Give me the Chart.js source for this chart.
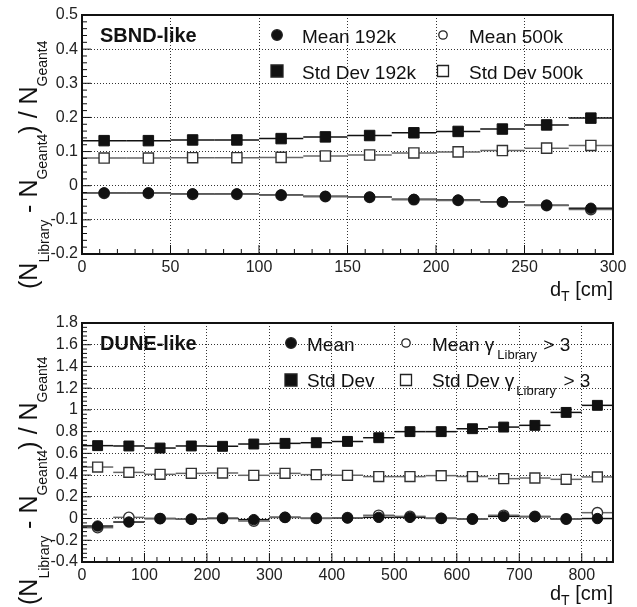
<!DOCTYPE html>
<html>
<head>
<meta charset="utf-8">
<title>SBND-like / DUNE-like</title>
<script src="https://cdn.jsdelivr.net/npm/chart.js@4.4.1/dist/chart.umd.min.js"></script>
<style>
  body { margin: 0; background: #fff; }
  #wrap { position: relative; width: 637px; height: 607px; }
  #wrap canvas { position: absolute; left: 0; top: 0; }
</style>
</head>
<body>
<div id="wrap">
  <canvas id="sbnd" width="637" height="607"></canvas>
  <canvas id="dune" width="637" height="607"></canvas>
</div>
<script>
// ------------------------------------------------------------
// Data
// ------------------------------------------------------------

// Upper panel: SBND-like, bins of 25 cm
const sbndBins     = [12.5, 37.5, 62.5, 87.5, 112.5, 137.5, 162.5, 187.5, 212.5, 237.5, 262.5, 287.5];
const sbndHalfBin  = 12.5;
const sbndMean192k = [-0.021, -0.021, -0.024, -0.024, -0.027, -0.031, -0.033, -0.040, -0.042, -0.047, -0.057, -0.066];
const sbndMean500k = [-0.022, -0.022, -0.025, -0.025, -0.028, -0.032, -0.034, -0.041, -0.043, -0.048, -0.058, -0.070];
const sbndStd192k  = [0.132, 0.132, 0.134, 0.134, 0.138, 0.143, 0.147, 0.155, 0.159, 0.166, 0.178, 0.198];
const sbndStd500k  = [0.081, 0.081, 0.082, 0.082, 0.083, 0.087, 0.090, 0.096, 0.099, 0.103, 0.110, 0.118];
const sbndXTicks   = [0, 50, 100, 150, 200, 250, 300];
const sbndYTicks   = [-0.2, -0.1, 0, 0.1, 0.2, 0.3, 0.4, 0.5];

// Lower panel: DUNE-like, bins of 50 cm
const duneBins      = [25, 75, 125, 175, 225, 275, 325, 375, 425, 475, 525, 575, 625, 675, 725, 775, 825];
const duneHalfBin   = 25;
const duneMean      = [-0.069, -0.032, 0.000, -0.006, 0.000, -0.010, 0.011, 0.002, 0.005, 0.011, 0.011, 0.002, -0.004, 0.020, 0.017, -0.004, 0.000];
const duneMeanGamma = [-0.084, 0.011, 0.000, -0.006, 0.005, -0.023, 0.011, 0.002, 0.008, 0.030, 0.020, 0.002, -0.004, 0.030, 0.020, -0.004, 0.054];
const duneStd       = [0.671, 0.668, 0.649, 0.668, 0.665, 0.686, 0.692, 0.698, 0.710, 0.744, 0.800, 0.800, 0.827, 0.842, 0.858, 0.977, 1.042];
const duneStdGamma  = [0.474, 0.425, 0.407, 0.416, 0.419, 0.398, 0.416, 0.404, 0.398, 0.386, 0.386, 0.395, 0.386, 0.367, 0.373, 0.361, 0.383];
const duneXTicks    = [0, 100, 200, 300, 400, 500, 600, 700, 800];
const duneYTicks    = [-0.4, -0.2, 0, 0.2, 0.4, 0.6, 0.8, 1, 1.2, 1.4, 1.6, 1.8];

const FONT = "'Liberation Sans', Arial, Helvetica, sans-serif";

// pairs x/y for the scatter datasets
function toPoints(xs, ys) {
  return xs.map((x, i) => ({ x: x, y: ys[i] }));
}

// draws a run of text pieces (subscripts use dy and a smaller size)
function drawRich(ctx, parts, x, y) {
  let cx = x;
  parts.forEach(p => {
    ctx.font = (p.bold ? 'bold ' : '') + p.s + 'px ' + FONT;
    cx += p.gap || 0;
    ctx.fillText(p.t, cx, y + (p.dy || 0));
    cx += ctx.measureText(p.t).width;
  });
  return cx - x;
}

function richWidth(ctx, parts) {
  let w = 0;
  parts.forEach(p => {
    ctx.font = (p.bold ? 'bold ' : '') + p.s + 'px ' + FONT;
    w += (p.gap || 0) + ctx.measureText(p.t).width;
  });
  return w;
}

function drawMarker(ctx, m) {
  ctx.save();
  ctx.lineWidth = 1.3;
  ctx.strokeStyle = '#222';
  ctx.fillStyle = m.filled ? '#111' : '#fff';
  ctx.beginPath();
  if (m.shape === 'circle') {
    ctx.arc(m.x, m.y, m.r, 0, Math.PI * 2);
  } else {
    ctx.rect(m.x - m.r, m.y - m.r, m.r * 2, m.r * 2);
  }
  ctx.fill();
  ctx.stroke();
  ctx.restore();
}

// ROOT-like decorations: error bars, frame, inner ticks, legend, titles
const panelDecor = {
  id: 'panelDecor',
  beforeDatasetsDraw(chart) {
    const { ctx, scales: { x, y } } = chart;
    chart.data.datasets.forEach(ds => {
      ctx.save();
      ctx.strokeStyle = ds.barColor;
      ctx.lineWidth = 1.5;
      ds.data.forEach(p => {
        const py = y.getPixelForValue(p.y);
        ctx.beginPath();
        ctx.moveTo(x.getPixelForValue(p.x - ds.halfWidth), py);
        ctx.lineTo(x.getPixelForValue(p.x + ds.halfWidth), py);
        ctx.stroke();
      });
      ctx.restore();
    });
  },
  afterDraw(chart, args, opts) {
    const { ctx, chartArea: a, scales: { x, y } } = chart;
    ctx.save();

    // inner tick marks on the left and bottom axes
    ctx.strokeStyle = '#111';
    ctx.lineWidth = 1;
    const eps = 1e-9;
    for (let v = y.min; v <= y.max + eps; v += opts.yMinor) {
      const py = y.getPixelForValue(v);
      const major = opts.yTicks.some(t => Math.abs(t - v) < 1e-6);
      ctx.beginPath();
      ctx.moveTo(a.left, py);
      ctx.lineTo(a.left + (major ? 9 : 5), py);
      ctx.stroke();
    }
    for (let v = x.min; v <= x.max + eps; v += opts.xMinor) {
      const px = x.getPixelForValue(v);
      const major = opts.xTicks.some(t => Math.abs(t - v) < 1e-6);
      ctx.beginPath();
      ctx.moveTo(px, a.bottom);
      ctx.lineTo(px, a.bottom - (major ? 9 : 5));
      ctx.stroke();
    }

    // frame
    ctx.lineWidth = 2;
    ctx.strokeStyle = '#111';
    ctx.strokeRect(a.left, a.top, a.right - a.left, a.bottom - a.top);

    // panel label + legend
    ctx.fillStyle = '#111';
    ctx.textBaseline = 'alphabetic';
    ctx.textAlign = 'left';
    ctx.font = 'bold 20px ' + FONT;
    ctx.fillText(opts.label.text, opts.label.x, opts.label.y);
    opts.legend.forEach(e => {
      drawMarker(ctx, e.marker);
      drawRich(ctx, e.parts, e.x, e.y);
    });

    // x title, right-aligned to the frame
    const xw = richWidth(ctx, opts.xTitle);
    drawRich(ctx, opts.xTitle, a.right - xw, opts.xTitleY);

    // y title, rotated
    ctx.translate(opts.yTitleX, opts.yTitleStart);
    ctx.rotate(-Math.PI / 2);
    drawRich(ctx, opts.yTitle, 0, 0);
    ctx.restore();
  }
};

const yTitleParts = [
  { t: '(N', s: 25 },
  { t: 'Library', s: 14, dy: 12 },
  { t: ' - N', s: 25 },
  { t: 'Geant4', s: 14, dy: 10 },
  { t: ') / N', s: 25 },
  { t: 'Geant4', s: 14, dy: 10 }
];
const xTitleParts = [
  { t: 'd', s: 20 },
  { t: 'T', s: 14, dy: 5 },
  { t: ' [cm]', s: 20 }
];

function makeAxis(min, max, ticks, fmt) {
  return {
    type: 'linear',
    min: min,
    max: max,
    afterBuildTicks: s => { s.ticks = ticks.map(v => ({ value: v })); },
    grid: { color: '#333', lineWidth: 1, drawTicks: false },
    border: { display: false, dash: [1, 2] },
    ticks: {
      padding: 4,
      color: '#222',
      font: { family: FONT, size: 16 },
      maxRotation: 0,
      autoSkip: false,
      callback: fmt
    }
  };
}

function makePanel(id, cfg) {
  const xAxis = makeAxis(cfg.xMin, cfg.xMax, cfg.xTicks, v => String(v));
  xAxis.afterFit = s => { s.height = 30; };
  const yAxis = makeAxis(cfg.yMin, cfg.yMax, cfg.yTicks, v => String(Math.round(v * 10) / 10));
  yAxis.afterFit = s => { s.width = 82; };

  return new Chart(document.getElementById(id), {
    type: 'scatter',
    data: { datasets: cfg.datasets },
    options: {
      responsive: false,
      animation: false,
      events: [],
      layout: { padding: cfg.padding },
      plugins: {
        legend: { display: false },
        tooltip: { enabled: false },
        panelDecor: cfg.decor
      },
      scales: { x: xAxis, y: yAxis }
    },
    plugins: [panelDecor]
  });
}

function filledSet(label, xs, ys, shape, r, half, order) {
  return {
    label: label, data: toPoints(xs, ys),
    pointStyle: shape, pointRadius: r, borderWidth: 1,
    backgroundColor: '#111', borderColor: '#111',
    halfWidth: half, barColor: '#111', order: order
  };
}
function openSet(label, xs, ys, shape, r, half, order) {
  return {
    label: label, data: toPoints(xs, ys),
    pointStyle: shape, pointRadius: r, borderWidth: 1.4,
    backgroundColor: '#fff', borderColor: '#333',
    halfWidth: half, barColor: '#666', order: order
  };
}

// ---------------- upper panel ----------------
makePanel('sbnd', {
  xMin: 0, xMax: 300, yMin: -0.2, yMax: 0.5,
  xTicks: sbndXTicks, yTicks: sbndYTicks,
  padding: { left: 0, right: 24, top: 15, bottom: 323 },
  datasets: [
    filledSet('Mean 192k', sbndBins, sbndMean192k, 'circle', 5.2, sbndHalfBin, 0),
    openSet('Mean 500k', sbndBins, sbndMean500k, 'circle', 5.2, sbndHalfBin, 1),
    openSet('Std Dev 500k', sbndBins, sbndStd500k, 'rect', 7.2, sbndHalfBin, 2),
    filledSet('Std Dev 192k', sbndBins, sbndStd192k, 'rect', 7.4, sbndHalfBin, 3)
  ],
  decor: {
    xTicks: sbndXTicks, yTicks: sbndYTicks, xMinor: 10, yMinor: 0.02,
    label: { text: 'SBND-like', x: 100, y: 42 },
    legend: [
      { marker: { shape: 'circle', filled: true, x: 277, y: 35, r: 5.3 }, x: 302, y: 43, parts: [{ t: 'Mean 192k', s: 19 }] },
      { marker: { shape: 'circle', filled: false, x: 443, y: 35, r: 4.2 }, x: 469, y: 43, parts: [{ t: 'Mean 500k', s: 19 }] },
      { marker: { shape: 'rect', filled: true, x: 277, y: 71, r: 6 }, x: 302, y: 79, parts: [{ t: 'Std Dev 192k', s: 19 }] },
      { marker: { shape: 'rect', filled: false, x: 443, y: 71, r: 5.5 }, x: 469, y: 79, parts: [{ t: 'Std Dev 500k', s: 19 }] }
    ],
    xTitle: xTitleParts, xTitleY: 296,
    yTitle: yTitleParts, yTitleX: 37, yTitleStart: 289
  }
});

// ---------------- lower panel ----------------
makePanel('dune', {
  xMin: 0, xMax: 850, yMin: -0.4, yMax: 1.8,
  xTicks: duneXTicks, yTicks: duneYTicks,
  padding: { left: 0, right: 24, top: 323, bottom: 15 },
  datasets: [
    filledSet('Mean', duneBins, duneMean, 'circle', 5.2, duneHalfBin, 0),
    openSet('Mean γLibrary > 3', duneBins, duneMeanGamma, 'circle', 5.2, duneHalfBin, 1),
    openSet('Std Dev γLibrary > 3', duneBins, duneStdGamma, 'rect', 7, duneHalfBin, 2),
    filledSet('Std Dev', duneBins, duneStd, 'rect', 7, duneHalfBin, 3)
  ],
  decor: {
    xTicks: duneXTicks, yTicks: duneYTicks, xMinor: 20, yMinor: 0.04,
    label: { text: 'DUNE-like', x: 100, y: 350 },
    legend: [
      { marker: { shape: 'circle', filled: true, x: 291, y: 343, r: 5.3 }, x: 307, y: 351, parts: [{ t: 'Mean', s: 19 }] },
      { marker: { shape: 'circle', filled: false, x: 406, y: 343, r: 4.2 }, x: 432, y: 351,
        parts: [{ t: 'Mean γ', s: 19 }, { t: 'Library', s: 13, dy: 8, gap: 3 }, { t: ' > 3', s: 19, gap: 1 }] },
      { marker: { shape: 'rect', filled: true, x: 291, y: 380, r: 6 }, x: 307, y: 387, parts: [{ t: 'Std Dev', s: 19 }] },
      { marker: { shape: 'rect', filled: false, x: 406, y: 380, r: 5.5 }, x: 432, y: 387,
        parts: [{ t: 'Std Dev γ', s: 19 }, { t: 'Library', s: 13, dy: 8, gap: 2 }, { t: ' > 3', s: 19, gap: 2 }] }
    ],
    xTitle: xTitleParts, xTitleY: 600,
    yTitle: yTitleParts, yTitleX: 37, yTitleStart: 605
  }
});
</script>
</body>
</html>
